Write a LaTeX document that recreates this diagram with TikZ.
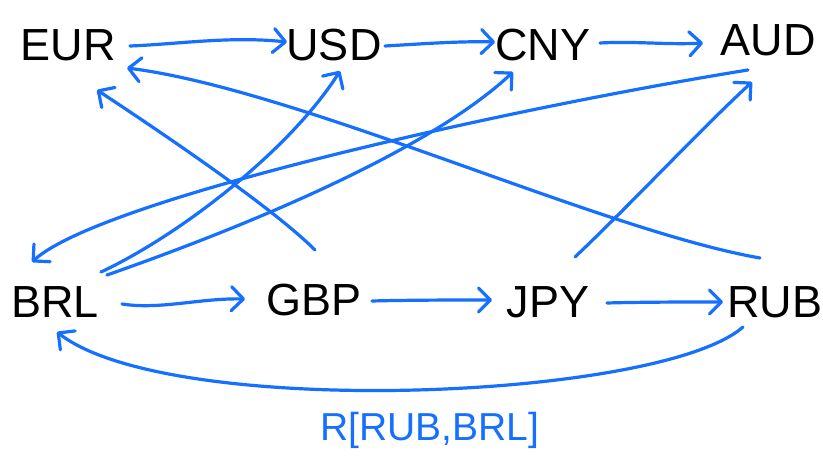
\documentclass[tikz,border=0pt]{standalone}
\usepackage{fontspec}
\setmainfont{Liberation Sans}
\usetikzlibrary{arrows.meta}
\definecolor{ink}{RGB}{22,112,255}
\begin{document}
\begin{tikzpicture}[x=1pt,y=-1pt,
  cur/.style={font=\fontsize{45}{45}\selectfont, inner sep=0pt, text=black},
  lab/.style={font=\fontsize{39}{39}\selectfont, inner sep=0pt, text=ink},
  edge/.style={draw=ink, line width=3.2pt, line cap=round, line join=round,
    -{Straight Barb[length=12pt,width=24pt,round]}}]
\useasboundingbox (0,0) rectangle (823,457);
\fill[white] (0,0) rectangle (823,457);
% nodes
\node[cur] (EUR) at (68,45) {EUR};
\node[cur] (USD) at (334,45) {USD};
\node[cur] (CNY) at (543,45) {CNY};
\node[cur] (AUD) at (768,40) {AUD};
\node[cur] (BRL) at (55,302) {BRL};
\node[cur] (GBP) at (314,300) {GBP};
\node[cur] (JPY) at (548,302) {JPY};
\node[cur] (RUB) at (775,302) {RUB};
\node[lab] (LBL) at (430,430) {R[RUB,BRL]};
% top row
\draw[edge] ([shift={(62,1)}]EUR.center) .. controls ([shift={(112,-1)}]EUR.center) and ([shift={(-104,-9)}]USD.center) .. ([shift={(-47,-3)}]USD.center);
\draw[edge] ([shift={(51,1)}]USD.center) .. controls ([shift={(86,-1)}]USD.center) and ([shift={(-83,-4)}]CNY.center) .. ([shift={(-48,-3)}]CNY.center);
\draw[edge] ([shift={(57,-2)}]CNY.center) .. controls ([shift={(92,-4)}]CNY.center) and ([shift={(-100,5)}]AUD.center) .. ([shift={(-65,3)}]AUD.center);
% bottom row
\draw[edge] ([shift={(67,2)}]BRL.center) .. controls ([shift={(105,8)}]BRL.center) and ([shift={(-114,-2)}]GBP.center) .. ([shift={(-69,-1)}]GBP.center);
\draw[edge] ([shift={(58,1)}]GBP.center) .. controls ([shift={(95,0)}]GBP.center) and ([shift={(-90,-2)}]JPY.center) .. ([shift={(-56,-2)}]JPY.center);
\draw[edge] ([shift={(59,1)}]JPY.center) .. controls ([shift={(95,0)}]JPY.center) and ([shift={(-90,0)}]RUB.center) .. ([shift={(-52,0)}]RUB.center);
% RUB -> BRL
\draw[edge] ([shift={(-32,25)}]RUB.center) .. controls ([shift={(-115,98)}]RUB.center) and ([shift={(115,118)}]BRL.center) .. ([shift={(2,30)}]BRL.center);
% diagonals
\draw[edge] ([shift={(1,-50)}]GBP.center) .. controls ([shift={(-44,-95)}]GBP.center) and ([shift={(82,80)}]EUR.center) .. ([shift={(29,45)}]EUR.center);
\draw[edge] ([shift={(-15,-44)}]RUB.center) .. controls ([shift={(-175,-72)}]RUB.center) and ([shift={(232,45)}]EUR.center) .. ([shift={(59,23)}]EUR.center);
\draw[edge] ([shift={(46,-30)}]BRL.center) .. controls ([shift={(125,-67)}]BRL.center) and ([shift={(-44,105)}]USD.center) .. ([shift={(6,26)}]USD.center);
\draw[edge] ([shift={(52,-27)}]BRL.center) .. controls ([shift={(195,-77)}]BRL.center) and ([shift={(-113,105)}]CNY.center) .. ([shift={(-30,27)}]CNY.center);
\draw[edge] ([shift={(-20,30)}]AUD.center) .. controls ([shift={(-268,70)}]AUD.center) and ([shift={(45,-102)}]BRL.center) .. ([shift={(-23,-40)}]BRL.center);
\draw[edge] ([shift={(27,-45)}]JPY.center) .. controls ([shift={(82,-97)}]JPY.center) and ([shift={(-68,90)}]AUD.center) .. ([shift={(-16,42)}]AUD.center);
\end{tikzpicture}
\end{document}
